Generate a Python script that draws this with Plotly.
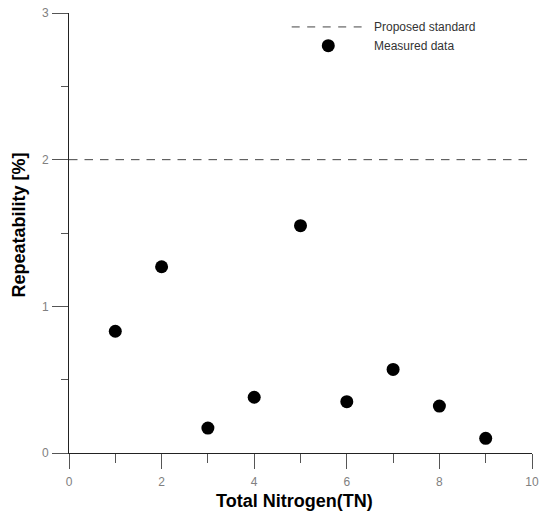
import plotly.graph_objects as go

# ---- data ----
tn_samples = [1, 2, 3, 4, 5, 6, 7, 8, 9]
repeatability = [0.83, 1.27, 0.17, 0.38, 1.55, 0.35, 0.57, 0.32, 0.10]
standard_x = [0, 10]
standard_y = [2, 2]
x_ticks = [0, 2, 4, 6, 8, 10]
y_ticks = [0, 1, 2, 3]
legend_labels = ["Proposed standard", "Measured data"]

FONT = "Liberation Sans, Arial, sans-serif"
TICK_GRAY = "#808080"

fig = go.Figure()

fig.add_trace(go.Scatter(
    x=standard_x, y=standard_y, mode="lines",
    line=dict(color="#444444", width=1, dash="8.5px,7px"),
    showlegend=False, hoverinfo="skip",
))
fig.add_trace(go.Scatter(
    x=tn_samples, y=repeatability, mode="markers",
    marker=dict(color="black", size=13, line=dict(width=0)),
    showlegend=False, cliponaxis=False,
))

# manual legend (data coordinates)
fig.add_shape(type="line", xref="x", yref="y", x0=4.81, x1=6.32, y0=2.905, y1=2.905,
              line=dict(color="#444444", width=1, dash="8px,7.5px"))
fig.add_shape(type="circle", xref="x", yref="y", xsizemode="pixel", ysizemode="pixel",
              xanchor=5.6, yanchor=2.777, x0=-6.5, x1=6.5, y0=-6.5, y1=6.5,
              fillcolor="black", line=dict(width=0))
fig.add_annotation(x=6.55, y=2.905, xref="x", yref="y", text=legend_labels[0],
                   showarrow=False, xanchor="left", yanchor="middle",
                   font=dict(family=FONT, size=12, color="#333333"))
fig.add_annotation(x=6.55, y=2.777, xref="x", yref="y", text=legend_labels[1],
                   showarrow=False, xanchor="left", yanchor="middle",
                   font=dict(family=FONT, size=12, color="#333333"))

# axis titles
fig.add_annotation(x=0.487, y=-0.108, xref="paper", yref="paper", text="<b>Total Nitrogen(TN)</b>",
                   showarrow=False, xanchor="center", yanchor="middle",
                   font=dict(family=FONT, size=18, color="black"))
fig.add_annotation(x=-0.107, y=0.518, xref="paper", yref="paper", text="<b>Repeatability [%]</b>",
                   showarrow=False, xanchor="center", yanchor="middle", textangle=-90,
                   font=dict(family=FONT, size=18, color="black"))

fig.update_xaxes(
    range=[0, 10], tickvals=x_ticks, ticks="outside", ticklen=15, tickwidth=1,
    tickcolor="#555555", showline=True, linecolor="#222222", linewidth=1,
    showgrid=False, zeroline=False, automargin=False, ticklabelstandoff=3,
    tickfont=dict(family=FONT, size=12, color=TICK_GRAY),
    minor=dict(dtick=1, ticks="outside", ticklen=9, tickcolor="#555555", showgrid=False),
)
fig.update_yaxes(
    range=[0, 3], tickvals=y_ticks, ticks="outside", ticklen=16, tickwidth=1,
    tickcolor="#555555", showline=True, linecolor="#222222", linewidth=1,
    showgrid=False, zeroline=False, automargin=False, ticklabelstandoff=1,
    tickfont=dict(family=FONT, size=12, color=TICK_GRAY),
    minor=dict(dtick=0.5, ticks="outside", ticklen=7, tickcolor="#555555", showgrid=False),
)

fig.update_layout(
    width=542, height=514,
    margin=dict(l=69, r=10, t=13, b=61, pad=0, autoexpand=False),
    plot_bgcolor="white", paper_bgcolor="white",
    showlegend=False,
    font=dict(family=FONT),
)

fig.write_html(
    "out.html",
    config={"displayModeBar": False},
    post_script="document.body.style.margin='0';document.body.style.padding='0';document.body.style.overflow='hidden';",
)
